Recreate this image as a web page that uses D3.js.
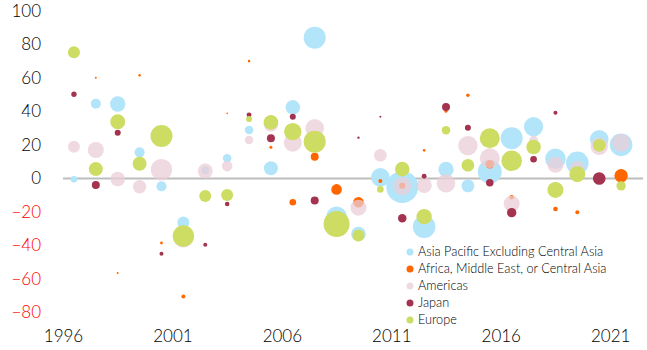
<!DOCTYPE html>
<html>
<head>
<meta charset="utf-8">
<script src="https://cdn.jsdelivr.net/npm/d3@7"></script>
<style>
	body { margin: 0; background: #fff; }
	text { font-family: Lato, "Open Sans", sans-serif; font-weight: 300; }
</style>
</head>
<body>
<svg width="647" height="350"></svg>
<script>
(function () {

	// each row: [year, value, size]
	var asiaPacific = [
		[1996, -0.5, 11], [1997, 44.7, 25], [1998, 44.5, 59], [1999, 15.6, 25], [2000, -4.7, 25],
		[2001, -26.2, 36], [2002, 5, 16], [2003, 12.1, 18], [2004, 29, 18], [2005, 6.1, 49],
		[2006, 42.5, 53], [2007, 84.1, 121], [2008, -22.8, 106], [2009, -33.1, 53], [2010, 0.7, 86],
		[2011, -5, 256], [2012, -28.8, 128], [2013, 5.4, 59], [2014, -4.4, 42], [2015, 4.1, 144],
		[2016, 24.1, 121], [2017, 30.9, 94], [2018, 11.8, 106], [2019, 9.3, 128], [2020, 23.4, 86],
		[2021, 20.1, 128]
	];

	var africaMiddleEast = [
		[1997, 60.2, 1], [1998, -56.4, 1], [1999, 61.6, 1.5], [2000, -38.5, 2], [2001, -70.5, 4],
		[2003, 38.9, 0.7], [2004, 70.1, 1.7], [2005, 18.6, 2.3], [2006, -14.2, 11], [2007, 13, 16],
		[2008, -6.5, 28], [2009, -14.2, 28], [2010, -1.5, 4], [2011, -4.3, 9], [2012, 16.8, 1.7],
		[2013, 40.1, 2.3], [2014, 49.7, 2.9], [2015, 8.5, 18], [2016, -11.2, 5.3], [2018, -18.2, 5.3],
		[2019, -20.2, 4], [2021, 1.7, 45]
	];

	var americas = [
		[1996, 19, 36], [1997, 17, 64], [1998, -0.3, 53], [1999, -4.9, 45], [2000, 5.3, 114],
		[2001, -35, 110], [2002, 4.5, 56], [2003, 7.4, 28], [2004, 23, 18], [2005, 32.4, 53],
		[2006, 21.4, 81], [2007, 30, 86], [2009, -17.4, 64], [2010, 13.9, 40], [2011, -4.5, 81],
		[2012, -4.1, 59], [2013, -2.8, 86], [2014, 19.6, 94], [2015, 12.1, 100], [2016, -15, 64],
		[2017, 22.8, 20], [2018, 8.2, 64], [2019, 6.1, 53], [2020, 19.2, 76], [2021, 21.4, 81]
	];

	var japan = [
		[1996, 50.3, 7], [1997, -3.9, 16], [1998, 27.3, 9], [2000, -44.9, 4], [2002, -39.5, 4],
		[2003, -15.2, 5.3], [2004, 37.9, 6], [2005, 24, 16], [2006, 36.9, 9], [2007, -13.2, 16],
		[2009, 24.4, 1.5], [2010, 36.9, 1], [2011, -23.8, 18], [2012, 1.3, 6], [2013, 42.7, 16],
		[2014, 30.3, 9], [2015, -2.5, 14], [2016, -20.4, 22], [2017, 11.5, 11], [2018, 39.2, 4],
		[2020, 0, 40]
	];

	var europe = [
		[1996, 75.4, 36], [1997, 5.6, 49], [1998, 33.9, 56], [1999, 8.8, 49], [2000, 25.4, 121],
		[2001, -34.3, 114], [2002, -10.5, 36], [2003, -9.9, 36], [2004, 35.5, 9], [2005, 33.5, 53],
		[2006, 28, 76], [2007, 22, 121], [2008, -27.2, 169], [2009, -34, 36], [2010, -6.5, 11],
		[2011, 5.6, 53], [2012, -22.8, 59], [2013, 28.8, 18], [2014, 7.9, 40], [2015, 24, 100],
		[2016, 10.6, 106], [2017, 18.8, 53], [2018, -6.8, 64], [2019, 2.6, 64], [2020, 19.8, 40],
		[2021, -4.4, 22]
	];

	var seriesNames = [
		"Asia Pacific Excluding Central Asia",
		"Africa, Middle East, or Central Asia",
		"Americas",
		"Japan",
		"Europe"
	];
	var seriesColors = ["#b3e5fa", "#ff6600", "#ebcdd8", "#a3334f", "#cddc62"];
	var seriesOpacity = [1, 1, 0.75, 1, 1];
	var seriesData = [asiaPacific, africaMiddleEast, americas, japan, europe];

	var yearTicks = [1996, 2001, 2006, 2011, 2016, 2021];
	var valueTicks = [-80, -60, -40, -20, 0, 20, 40, 60, 80, 100];

	var svg = d3.select("svg");

	var xScale = d3.scaleLinear()
		.domain([1996, 2022.5])
		.range([63, 643]);

	var yScale = d3.scaleLinear()
		.domain([-80, 100])
		.range([312.5, 11]);

	var rScale = d3.scaleSqrt()
		.domain([0, 256])
		.range([0, 16]);

	// zero line
	svg.append("line")
		.attr("x1", xScale(1996))
		.attr("x2", xScale(2022.5))
		.attr("y1", yScale(0))
		.attr("y2", yScale(0))
		.attr("stroke", "#bdbdbd")
		.attr("stroke-width", 2);

	// y labels
	svg.append("g")
		.attr("transform", "translate(41,0)")
		.call(d3.axisLeft(yScale).tickValues(valueTicks).tickSize(0).tickPadding(0))
		.call(function (g) { g.select(".domain").remove(); })
		.selectAll("text")
		.attr("font-size", 17)
		.attr("font-family", "Lato")
		.attr("fill", function (d) { return d < 0 ? "#ff0000" : "#000"; });

	// x labels
	svg.append("g")
		.attr("transform", "translate(0,330)")
		.call(d3.axisBottom(xScale).tickValues(yearTicks).tickFormat(d3.format("d")).tickSize(0).tickPadding(0))
		.call(function (g) { g.select(".domain").remove(); })
		.selectAll("text")
		.attr("font-size", 17)
		.attr("font-family", "Lato")
		.attr("fill", "#000");

	// bubbles, plotted mid-year
	seriesData.forEach(function (rows, i) {
		svg.append("g")
			.selectAll("circle")
			.data(rows)
			.enter()
			.append("circle")
			.attr("cx", function (d) { return xScale(d[0] + 0.5); })
			.attr("cy", function (d) { return yScale(d[1]); })
			.attr("r", function (d) { return rScale(d[2]); })
			.attr("fill", seriesColors[i])
			.attr("fill-opacity", seriesOpacity[i]);
	});

	// legend
	var legend = svg.append("g")
		.selectAll("g")
		.data(seriesNames)
		.enter()
		.append("g")
		.attr("transform", function (d, i) { return "translate(410," + (252 + i * 17) + ")"; });

	legend.append("circle")
		.attr("r", 3.5)
		.attr("fill", function (d, i) { return seriesColors[i]; })
		.attr("fill-opacity", function (d, i) { return seriesOpacity[i]; });

	legend.append("text")
		.attr("x", 8)
		.attr("dy", "0.35em")
		.attr("font-size", 12.7)
		.attr("fill", "#000")
		.text(function (d) { return d; });

})();
</script>
</body>
</html>
